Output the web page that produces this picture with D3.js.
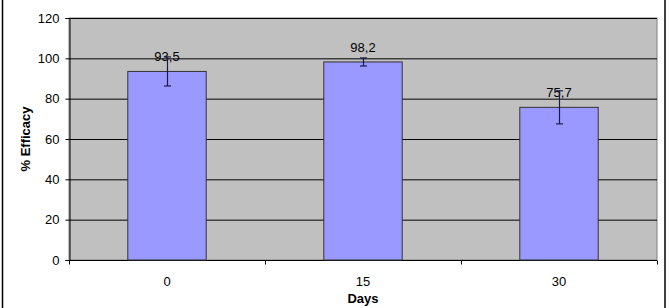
<!DOCTYPE html>
<html>
<head>
<meta charset="utf-8">
<script src="https://cdn.jsdelivr.net/npm/d3@7"></script>
<style>
  body { margin: 0; background: #fff; }
  text { font-family: Arial, "Liberation Sans", sans-serif; }
</style>
</head>
<body>
<svg id="chart" width="669" height="308"></svg>
<script>
// data
const days = ['0', '15', '30'];
const efficacy = [93.5, 98.2, 75.7];
const errors = [7.2, 2.0, 8.2];
const valueLabels = ['93,5', '98,2', '75,7'];
const yTicks = [0, 20, 40, 60, 80, 100, 120];

const svg = d3.select('#chart');
const plot = { left: 69, right: 657, top: 18, bottom: 260 };
const fs = 13;

const x = d3.scaleBand().domain(days).range([plot.left, plot.right]);
const y = d3.scaleLinear().domain([0, 120]).range([plot.bottom, plot.top]);

// outer frame edges
svg.append('line').attr('x1', 2.5).attr('x2', 2.5).attr('y1', 0).attr('y2', 308)
  .attr('stroke', '#000').attr('stroke-width', 1.5);
svg.append('line').attr('x1', 665).attr('x2', 665).attr('y1', 0).attr('y2', 308)
  .attr('stroke', '#000').attr('stroke-width', 1.5);

// plot background
svg.append('rect')
  .attr('x', plot.left).attr('y', plot.top)
  .attr('width', plot.right - plot.left).attr('height', plot.bottom - plot.top)
  .attr('fill', '#c0c0c0').attr('stroke', '#808080');

// gridlines
svg.append('g').selectAll('line')
  .data(yTicks.filter(d => d > 0))
  .join('line')
  .attr('x1', plot.left).attr('x2', plot.right)
  .attr('y1', d => y(d) + 0.5).attr('y2', d => y(d) + 0.5)
  .attr('stroke', '#000').attr('stroke-width', 1);

// y axis
const yAxis = svg.append('g')
  .attr('transform', `translate(${plot.left + 0.5},0)`)
  .call(d3.axisLeft(y).tickValues(yTicks).tickSize(4).tickPadding(6));
yAxis.select('.domain').attr('stroke', '#000');
yAxis.selectAll('text').attr('font-size', fs).attr('fill', '#000');

// x axis with ticks at band boundaries
const xAxisG = svg.append('g').attr('transform', `translate(0,${plot.bottom + 0.5})`);
xAxisG.append('line').attr('x1', plot.left).attr('x2', plot.right).attr('stroke', '#000');
const bounds = days.map(d => x(d)).concat([plot.right]);
xAxisG.selectAll('line.tk').data(bounds).join('line')
  .attr('class', 'tk')
  .attr('x1', d => d + 0.5).attr('x2', d => d + 0.5)
  .attr('y1', 0).attr('y2', 4).attr('stroke', '#000');
xAxisG.selectAll('text').data(days).join('text')
  .attr('x', d => x(d) + x.bandwidth() / 2)
  .attr('y', 25)
  .attr('text-anchor', 'middle')
  .attr('font-size', fs)
  .text(d => d);

// bars
const barW = x.bandwidth() * 0.4;
const cx = d => x(d) + x.bandwidth() / 2;
svg.append('g').selectAll('rect')
  .data(days)
  .join('rect')
  .attr('x', d => cx(d) - barW / 2)
  .attr('y', (d, i) => y(efficacy[i]))
  .attr('width', barW)
  .attr('height', (d, i) => plot.bottom - y(efficacy[i]))
  .attr('fill', '#9999ff')
  .attr('stroke', '#333')
  .attr('stroke-width', 1);

// value labels
svg.append('g').selectAll('text')
  .data(days)
  .join('text')
  .attr('x', d => cx(d))
  .attr('y', (d, i) => y(efficacy[i]) - 10)
  .attr('text-anchor', 'middle')
  .attr('font-size', fs)
  .attr('fill', '#000')
  .text((d, i) => valueLabels[i]);

// error bars
const err = svg.append('g').attr('stroke', '#1a1a4a').attr('stroke-width', 1.2);
days.forEach((d, i) => {
  const xc = Math.round(cx(d)) + 0.5;
  const lo = y(efficacy[i] - errors[i]);
  const hi = y(efficacy[i] + errors[i]);
  err.append('line').attr('x1', xc).attr('x2', xc).attr('y1', hi).attr('y2', lo);
  err.append('line').attr('x1', xc - 3.5).attr('x2', xc + 3.5).attr('y1', hi).attr('y2', hi);
  err.append('line').attr('x1', xc - 3.5).attr('x2', xc + 3.5).attr('y1', lo).attr('y2', lo);
});

// axis titles
svg.append('text')
  .attr('transform', `translate(30,${(plot.top + plot.bottom) / 2}) rotate(-90)`)
  .attr('text-anchor', 'middle')
  .attr('font-size', fs).attr('font-weight', 'bold')
  .text('% Efficacy');
svg.append('text')
  .attr('x', (plot.left + plot.right) / 2)
  .attr('y', 303)
  .attr('text-anchor', 'middle')
  .attr('font-size', fs).attr('font-weight', 'bold')
  .text('Days');
</script>
</body>
</html>
